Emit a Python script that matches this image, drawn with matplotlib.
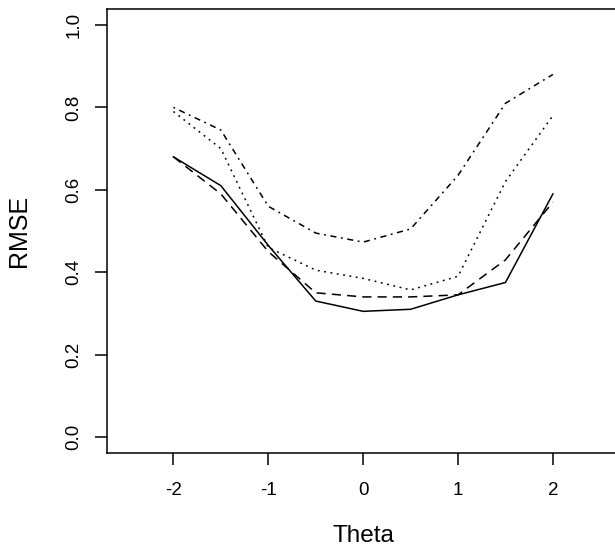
import numpy as np
import matplotlib
matplotlib.use("Agg")
import matplotlib.pyplot as plt

plt.rcParams['font.family'] = ['Liberation Sans', 'DejaVu Sans']

# RMSE by ability level
theta = [-2, -1.5, -1, -0.5, 0, 0.5, 1, 1.5, 2]
rmse_solid = [0.68, 0.61, 0.465, 0.33, 0.305, 0.31, 0.345, 0.375, 0.59]
rmse_dashed = [0.68, 0.59, 0.45, 0.35, 0.34, 0.34, 0.345, 0.43, 0.57]
rmse_dotted = [0.79, 0.70, 0.46, 0.405, 0.385, 0.357, 0.39, 0.62, 0.78]
rmse_dotdash = [0.80, 0.745, 0.56, 0.495, 0.473, 0.505, 0.635, 0.81, 0.88]

xticks = [-2, -1, 0, 1, 2]
yticks = [0.0, 0.2, 0.4, 0.6, 0.8, 1.0]

fig = plt.figure(figsize=(6.15, 5.5), dpi=100)
# right edge of the box falls just outside the picture, as in the original
ax = fig.add_axes([0.174, 0.1755, 0.833, 0.809])

ax.plot(theta, rmse_solid, color="black", lw=1.1, linestyle="-")
ax.plot(theta, rmse_dashed, color="black", lw=1.1, linestyle=(0, (6, 4)))
ax.plot(theta, rmse_dotted, color="black", lw=1.1, linestyle=(0, (1.2, 3)))
ax.plot(theta, rmse_dotdash, color="black", lw=1.1, linestyle=(0, (1.2, 3, 4, 3)))

ax.set_xlim(-2.7, 2.7)
ax.set_ylim(-0.04, 1.04)
ax.set_xticks(xticks)
ax.set_xticklabels([str(t) for t in xticks])
ax.set_yticks(yticks)
ax.set_yticklabels(["%.1f" % t for t in yticks], rotation=90, va="center")

for s in ax.spines.values():
    s.set_linewidth(1.1)
ax.tick_params(length=8.6, width=1.1, labelsize=13.5, color="black")
ax.tick_params(axis="x", pad=12)
ax.tick_params(axis="y", pad=9)

ax.set_xlabel("Theta", fontsize=17.5, va="center")
ax.set_ylabel("RMSE", fontsize=18, va="center", ha="center")
ax.xaxis.set_label_coords(0.5, -0.185)
ax.yaxis.set_label_coords(-0.172, 0.5)

fig.savefig("out.png", dpi=100)
